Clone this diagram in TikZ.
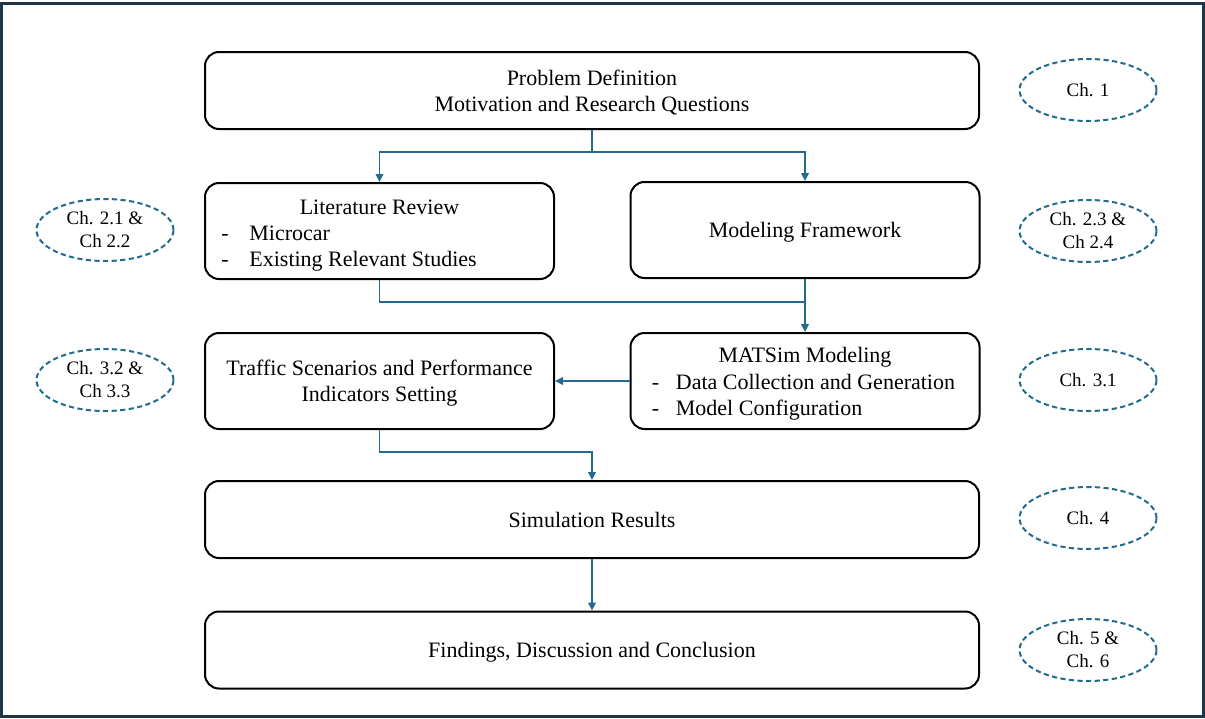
\documentclass[tikz,border=0pt]{standalone}
\usepackage{fontspec}
\setmainfont{Liberation Serif}
\usetikzlibrary{arrows.meta, shapes.geometric}
\definecolor{flowblue}{HTML}{236B8E}
\definecolor{framedark}{HTML}{1D3748}
\tikzset{stagebox/.style={draw, line width=1pt, rounded corners=7pt, align=center, inner sep=0pt, text depth=0pt, font=\fontsize{11}{13}\selectfont},
  wide/.style={minimum width=387pt, minimum height=38.5pt},
  half/.style={minimum width=174.5pt, minimum height=48pt},
  listtext/.style={align=left, inner sep=0pt, font=\fontsize{11}{13}\selectfont},
  chapter/.style={ellipse, draw=flowblue, line width=1pt, dash pattern=on 2.6pt off 1.7pt, minimum width=68.5pt, minimum height=31pt, inner sep=0pt, align=center, font=\fontsize{9.5}{11.5}\selectfont},
  flowline/.style={draw=flowblue, line width=0.9pt},
  flow/.style={flowline, -{Triangle[length=4pt, width=3.8pt]}}}

\begin{document}
\begin{tikzpicture}[x=0.5pt, y=-0.5pt]
    \useasboundingbox (0,0) rectangle (1205,718);
    \draw[framedark, line width=1.5pt] (1.5,3.5) rectangle (1203,716);

    % stages
    \node[stagebox, wide] (problem) at (592,90.5) {Problem Definition\\Motivation and Research Questions};
    \node[stagebox, half] (literature) at (379.5,231) {};
    \node[stagebox, half] (framework) at (805,230) {Modeling Framework};
    \node[stagebox, half] (traffic) at (379.5,381) {Traffic Scenarios and Performance\\Indicators Setting};
    \node[stagebox, half] (matsim) at (805,381) {};
    \node[stagebox, wide] (simulation) at (592,519.5) {Simulation Results};
    \node[stagebox, wide] (findings) at (592,650) {Findings, Discussion and Conclusion};

    \node[listtext] (littitle) at ([yshift=12pt]literature.center) {Literature Review};
    \node[listtext, anchor=west] (litlist) at ([xshift=8.5pt, yshift=-9pt]literature.west) {\makebox[14pt][l]{-}Microcar\\\makebox[14pt][l]{-}Existing Relevant Studies};
    \node[listtext] (matsimtitle) at ([yshift=12pt]matsim.center) {MATSim Modeling};
    \node[listtext, anchor=west] (matsimlist) at ([xshift=11pt, yshift=-8pt]matsim.west) {\makebox[12pt][l]{-}Data Collection and Generation\\\makebox[12pt][l]{-}Model Configuration};

    % connectors
    \draw[flowline] (problem.south) -- ++(0,-11pt) coordinate (split);
    \draw[flow] (split) -| (literature.north);
    \draw[flow] (split) -| (framework.north);
    \draw[flowline] (literature.south) -- ++(0,-11pt) -| (framework.south);
    \draw[flow] (framework.south) -- (matsim.north);
    \draw[flow] (matsim.west) -- (traffic.east);
    \draw[flow] (traffic.south) -- ++(0,-11pt) -| (simulation.north);
    \draw[flow] (simulation.south) -- (findings.north);

    % chapters
    \node[chapter] (ch1) at (1088,90) {Ch. 1};
    \node[chapter] (ch2a) at (105,230) {Ch. 2.1 \&\\Ch 2.2};
    \node[chapter] (ch2b) at (1088,231) {Ch. 2.3 \&\\Ch 2.4};
    \node[chapter] (ch3a) at (105,380) {Ch. 3.2 \&\\Ch 3.3};
    \node[chapter] (ch3b) at (1088,380) {Ch. 3.1};
    \node[chapter] (ch4) at (1088,518) {Ch. 4};
    \node[chapter] (ch5) at (1088,650) {Ch. 5 \&\\Ch. 6};
\end{tikzpicture}
\end{document}
